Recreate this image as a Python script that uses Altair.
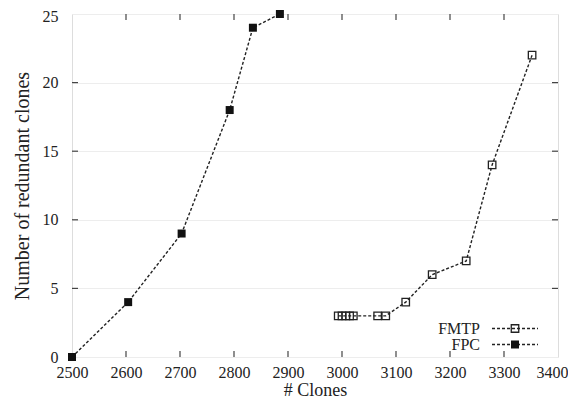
import altair as alt
import pandas as pd

# ---- data ----
fpc_x = [2500, 2604, 2703, 2792, 2835, 2885]
fpc_y = [0, 4, 9, 18, 24, 25]

fmtp_x = [2993, 3000, 3007, 3014, 3021, 3066, 3081, 3118, 3167, 3230, 3278, 3352]
fmtp_y = [3, 3, 3, 3, 3, 3, 3, 4, 6, 7, 14, 22]

x_ticks = list(range(2500, 3401, 100))
y_ticks = [0, 5, 10, 15, 20, 25]
x_inner_ticks = list(range(2600, 3301, 100))
y_inner_ticks = [5, 10, 15, 20]

FONT = "Liberation Serif"
W, H = 486, 343

fpc = pd.DataFrame({"x": fpc_x, "y": fpc_y})
fmtp = pd.DataFrame({"x": fmtp_x, "y": fmtp_y})
xt = pd.DataFrame({"x": x_inner_ticks})
yt = pd.DataFrame({"y": y_inner_ticks})
one = pd.DataFrame({"a": [0]})

xs = alt.Scale(domain=[2500, 3400], nice=False, zero=False)
ys = alt.Scale(domain=[0, 25], nice=False)

xaxis = alt.Axis(values=x_ticks, format="d", title="# Clones", grid=False, tickSize=0,
                 labelPadding=7, labelFlush=False, labelOverlap=False, domain=False,
                 labelFontSize=16, titleFontSize=18,
                 labelOffset={"condition": {"test": "datum.value == 3400", "value": -6},
                              "value": 0},
                 labelFont=FONT, titleFont=FONT, titleFontWeight="normal",
                 labelColor="#222", titleColor="#222",
                 titleY=38, titleBaseline="alphabetic")
yaxis = alt.Axis(values=y_ticks, format="d", title="Number of redundant clones", grid=True,
                 gridColor="#ededed", tickSize=0, labelPadding=14, labelFlush=False,
                 labelOffset={"condition": {"test": "datum.value == 25", "value": 2},
                              "value": 0},
                 domain=False, labelFontSize=16, titleFontSize=20, labelFont=FONT,
                 titleFont=FONT, titleFontWeight="normal", labelColor="#222",
                 titleColor="#222", titlePadding=10)

base_x = alt.X("x:Q", scale=xs, axis=xaxis)
base_y = alt.Y("y:Q", scale=ys, axis=yaxis)

line_fpc = alt.Chart(fpc).mark_line(color="#222", strokeDash=[3, 2], strokeWidth=1.4).encode(
    x=base_x, y=base_y, order="x:Q")
line_fmtp = alt.Chart(fmtp).mark_line(color="#222", strokeDash=[3, 2], strokeWidth=1.4).encode(
    x="x:Q", y="y:Q", order="x:Q")
pts_fpc = alt.Chart(fpc).mark_square(color="#111", size=64, opacity=1).encode(x="x:Q", y="y:Q")
pts_fmtp = alt.Chart(fmtp).mark_point(shape="square", filled=False, color="#222", size=56,
                                      strokeWidth=1.3, opacity=1).encode(x="x:Q", y="y:Q")

tick_style = dict(color="#444", strokeWidth=1.2)
tick_bottom = alt.Chart(xt).mark_rule(**tick_style).encode(
    x="x:Q", y=alt.value(H), y2=alt.value(H - 6))
tick_top = alt.Chart(xt).mark_rule(**tick_style).encode(
    x="x:Q", y=alt.value(0), y2=alt.value(6))
tick_left = alt.Chart(yt).mark_rule(**tick_style).encode(
    y="y:Q", x=alt.value(0), x2=alt.value(6))
tick_right = alt.Chart(yt).mark_rule(**tick_style).encode(
    y="y:Q", x=alt.value(W), x2=alt.value(W - 6))

# legend (drawn inside the plot, bottom right)
def legend_entry(label, ypix, filled):
    t = alt.Chart(one).mark_text(align="right", baseline="middle", font=FONT, fontSize=16,
                                 color="#222").encode(
        x=alt.value(408), y=alt.value(ypix), text=alt.value(label))
    r = alt.Chart(one).mark_rule(color="#222", strokeDash=[3, 2], strokeWidth=1.4).encode(
        x=alt.value(420), x2=alt.value(466), y=alt.value(ypix))
    if filled:
        p = alt.Chart(one).mark_square(color="#111", size=64, opacity=1).encode(
            x=alt.value(443), y=alt.value(ypix))
    else:
        p = alt.Chart(one).mark_point(shape="square", filled=False, color="#222", size=56,
                                      strokeWidth=1.3, opacity=1).encode(
            x=alt.value(443), y=alt.value(ypix))
    return [t, r, p]

legend_layers = legend_entry("FMTP", 314.5, False) + legend_entry("FPC", 330.5, True)

chart = alt.layer(
    line_fpc, line_fmtp, pts_fpc, pts_fmtp,
    tick_bottom, tick_top, tick_left, tick_right,
    *legend_layers
).properties(
    width=W, height=H,
    autosize=alt.AutoSizeParams(type="none"),
    padding={"left": 64, "top": 6, "right": 10, "bottom": 41},
).configure_view(
    stroke="#444", strokeWidth=1.5
).configure(background="white")

chart.save("out.html", embed_options={"renderer": "svg", "actions": False})
